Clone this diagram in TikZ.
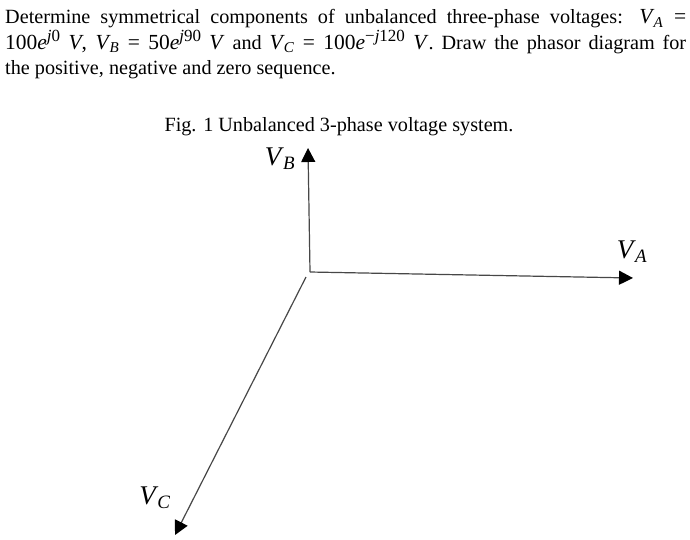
\documentclass[tikz,border=0pt]{standalone}
\usepackage{amsmath}
\usepackage{fontspec}
\setmainfont{Liberation Serif}
\usepackage{tikz}
\usetikzlibrary{arrows.meta}
\usetikzlibrary{positioning}

\newcommand{\eqtxt}[1]{{\fontsize{21.5}{25.5}\selectfont #1}}
\newcommand{\eqsup}[1]{\raisebox{7.5pt}{\fontsize{17}{17}\selectfont #1}}
\newcommand{\phV}[1]{\textit{V}\kern-1pt\textsubscript{\textit{#1}}}

\begin{document}
\begin{tikzpicture}[x=1pt,y=1pt,
    phasor/.style={draw=black!72,line width=1.2pt,-{Triangle[length=14pt,width=14pt,color=black]}},
    lab/.style={inner sep=0pt,font=\fontsize{27}{27}\selectfont}]

  \useasboundingbox (0,0) rectangle (690,-539);

  \node [inner sep=0pt,anchor=north west,text width=681pt,align=justify,font=\fontsize{20.2}{25.5}\selectfont] (Question) at (5,-9.5) {%
    Determine symmetrical components of unbalanced three-phase voltages: \eqtxt{\phV{A} =} \linebreak
    \eqtxt{100\textit{e}\eqsup{\textit{j}0} \textit{V}, \phV{B} = 50\textit{e}\eqsup{\textit{j}90} \textit{V}} and \eqtxt{\phV{C} = 100\textit{e}\eqsup{\textminus\textit{j}120} \textit{V}}. Draw the phasor diagram for \linebreak
    the positive, negative and zero sequence.\par};

  \node [inner sep=0pt,font=\fontsize{20.2}{24}\selectfont] (Caption) at (339,-127) {Fig. 1 Unbalanced 3-phase voltage system.};

  \coordinate (O)  at (310,-272);
  \coordinate (Oc) at (306,-277);
  \coordinate (Ab) at (633,-278);
  \coordinate (Bb) at (308,-148);
  \coordinate (Cb) at (175,-535);

  \node [lab] (VB) at (280,-159) {\phV{B}};
  \node [lab] (VA) at (632,-252) {\phV{A}};
  \node [lab] (VC) at (155,-498) {\phV{C}};

  \draw [phasor] (O)  -- (Ab);
  \draw [phasor] (O)  -- (Bb);
  \draw [phasor] (Oc) -- (Cb);

\end{tikzpicture}
\end{document}
